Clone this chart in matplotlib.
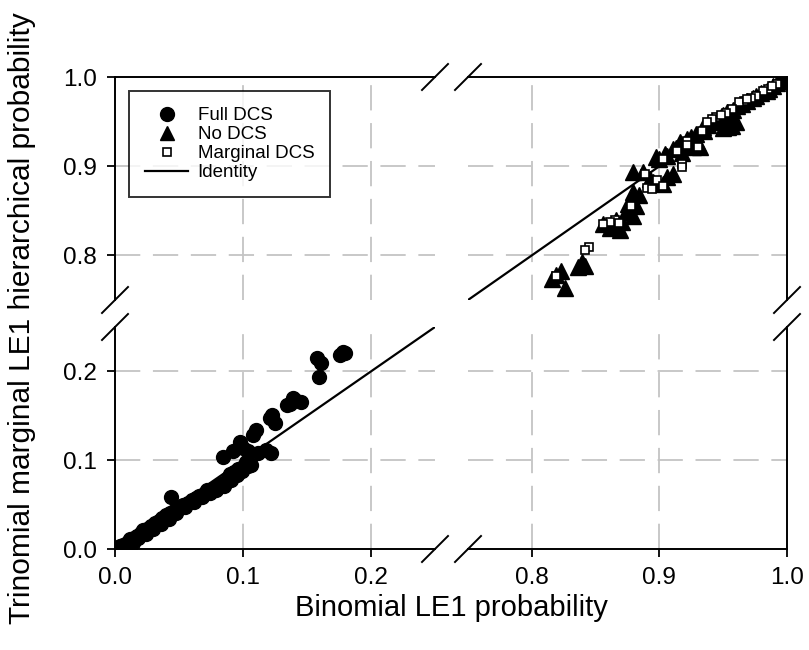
import matplotlib
matplotlib.use("Agg")
import matplotlib.pyplot as plt
from matplotlib.lines import Line2D

# Full DCS (all in the low range)
full_x = [0.004, 0.006, 0.008, 0.010, 0.012, 0.015, 0.017, 0.020, 0.022, 0.025,
          0.028, 0.031, 0.034, 0.037, 0.040, 0.043, 0.046, 0.044, 0.050, 0.053,
          0.057, 0.060, 0.063, 0.066, 0.070, 0.072, 0.076, 0.080, 0.083, 0.087,
          0.088, 0.090, 0.093, 0.096, 0.100, 0.104, 0.102, 0.084, 0.092, 0.098,
          0.100, 0.104, 0.112, 0.122, 0.108, 0.110, 0.123, 0.125, 0.121, 0.134,
          0.139, 0.145, 0.141, 0.158, 0.161, 0.159, 0.176, 0.180, 0.178,
          0.009, 0.014, 0.018, 0.024, 0.030, 0.036, 0.042, 0.048, 0.055, 0.062,
          0.068, 0.074, 0.079, 0.085, 0.091, 0.095, 0.099, 0.106, 0.118, 0.137]
full_y = [0.003, 0.005, 0.004, 0.008, 0.011, 0.012, 0.015, 0.018, 0.021, 0.023,
          0.026, 0.029, 0.032, 0.035, 0.038, 0.040, 0.043, 0.058, 0.046, 0.049,
          0.052, 0.055, 0.057, 0.060, 0.063, 0.066, 0.068, 0.070, 0.073, 0.076,
          0.080, 0.084, 0.087, 0.090, 0.092, 0.094, 0.098, 0.104, 0.110, 0.120,
          0.114, 0.110, 0.108, 0.108, 0.128, 0.134, 0.151, 0.142, 0.148, 0.162,
          0.170, 0.165, 0.168, 0.215, 0.210, 0.194, 0.218, 0.221, 0.222,
          0.002, 0.007, 0.012, 0.017, 0.022, 0.028, 0.034, 0.041, 0.047, 0.053,
          0.058, 0.063, 0.067, 0.071, 0.078, 0.083, 0.088, 0.095, 0.112, 0.163]

# No DCS
no_x = [1.000, 0.995, 0.989, 0.984, 0.976, 0.969, 0.961, 0.953, 0.954, 0.948,
        0.942, 0.934, 0.929, 0.926, 0.932, 0.922, 0.916, 0.911, 0.906, 0.900,
        0.897, 0.879, 0.887, 0.911, 0.906, 0.903, 0.895, 0.879, 0.877, 0.882,
        0.874, 0.879, 0.871, 0.869, 0.861, 0.856, 0.839, 0.842, 0.836, 0.823,
        0.816, 0.826, 0.819,
        0.997, 0.992, 0.986, 0.980, 0.973, 0.965, 0.958, 0.950, 0.945, 0.938,
        0.935, 0.925, 0.920, 0.913, 0.904, 0.957, 0.960, 0.950, 0.930, 0.918,
        0.893, 0.884, 0.875, 0.866, 0.864]
no_y = [1.000, 0.996, 0.990, 0.984, 0.979, 0.973, 0.967, 0.961, 0.944, 0.955,
        0.951, 0.944, 0.936, 0.922, 0.921, 0.930, 0.927, 0.919, 0.911, 0.908,
        0.910, 0.893, 0.893, 0.891, 0.888, 0.880, 0.882, 0.871, 0.860, 0.855,
        0.849, 0.844, 0.837, 0.829, 0.831, 0.835, 0.793, 0.788, 0.787, 0.782,
        0.773, 0.764, 0.778,
        0.998, 0.993, 0.987, 0.982, 0.976, 0.970, 0.963, 0.957, 0.950, 0.946,
        0.940, 0.933, 0.925, 0.920, 0.914, 0.945, 0.950, 0.943, 0.925, 0.915,
        0.886, 0.868, 0.858, 0.840, 0.834]

# Marginal DCS
marg_x = [0.985, 0.981, 0.976, 0.972, 0.966, 0.962, 0.957, 0.944, 0.941, 0.937,
          0.933, 0.930, 0.922, 0.922, 0.914, 0.903, 0.918, 0.918, 0.889, 0.898,
          0.903, 0.890, 0.894, 0.878, 0.865, 0.861, 0.856, 0.868, 0.845, 0.842,
          0.819, 0.992, 0.988, 0.969, 0.952, 0.948]
marg_y = [0.987, 0.984, 0.979, 0.977, 0.973, 0.972, 0.964, 0.955, 0.953, 0.949,
          0.939, 0.922, 0.928, 0.924, 0.917, 0.908, 0.903, 0.899, 0.891, 0.885,
          0.878, 0.876, 0.874, 0.855, 0.840, 0.837, 0.835, 0.836, 0.809, 0.806,
          0.777, 0.992, 0.990, 0.975, 0.960, 0.957]

identity = [0.0, 1.0]

x_lims = [(0.0, 0.25), (0.75, 1.0)]
y_lims = [(0.0, 0.25), (0.75, 1.0)]
x_ticks = [[0.0, 0.1, 0.2], [0.8, 0.9, 1.0]]
y_ticks = [[0.0, 0.1, 0.2], [0.8, 0.9, 1.0]]
x_grid = [[0.1, 0.2], [0.8, 0.9]]
y_grid = [[0.1, 0.2], [0.8, 0.9]]

plt.rcParams['font.family'] = ['Liberation Sans', 'DejaVu Sans']

W, H = 809, 650
fig = plt.figure(figsize=(W / 100, H / 100), dpi=100)

# pixel boxes of the four panels: (left, right) and (bottom, top) in image px
xpix = [(115, 435), (468, 787)]
ypix = [(549, 327), (300, 77)]

axes = {}
for i in range(2):
    for j in range(2):
        x0, x1 = xpix[i]
        yb, yt = ypix[j]
        ax = fig.add_axes([x0 / W, (H - yb) / H, (x1 - x0) / W, (yb - yt) / H])
        axes[(i, j)] = ax
        ax.set_xlim(*x_lims[i])
        ax.set_ylim(*y_lims[j])

        for g in x_grid[i]:
            ax.plot([g, g], y_lims[j], color='#c4c4c4', lw=1.3,
                    ls=(0, (14, 7)), zorder=0)
        for g in y_grid[j]:
            ax.plot(x_lims[i], [g, g], color='#c4c4c4', lw=1.3,
                    ls=(0, (14, 7)), zorder=0)

        ax.plot(identity, identity, color='black', lw=1.6, zorder=1)
        ax.plot(full_x, full_y, 'o', color='black', ms=10, zorder=2)
        ax.plot(no_x, no_y, '^', color='black', ms=11.5, zorder=3)
        ax.plot(marg_x, marg_y, 's', mfc='white', mec='black', mew=1.2,
                ms=5.5, zorder=4)

        for s in ax.spines.values():
            s.set_linewidth(1.4)
        ax.spines['left'].set_visible(i == 0)
        ax.spines['right'].set_visible(i == 1)
        ax.spines['bottom'].set_visible(j == 0)
        ax.spines['top'].set_visible(j == 1)

        ax.tick_params(direction='out', length=6, width=1.3, labelsize=17.5,
                       top=False, right=False, pad=7)
        if j == 0:
            ax.set_xticks(x_ticks[i])
            ax.set_xticklabels(['%.1f' % v for v in x_ticks[i]])
        else:
            ax.set_xticks([])
        if i == 0:
            ax.set_yticks(y_ticks[j])
            ax.set_yticklabels(['%.1f' % v for v in y_ticks[j]])
        else:
            ax.set_yticks([])
        ax.patch.set_alpha(0)

# legend in the upper-left panel
handles = [
    Line2D([], [], marker='o', color='black', ls='none', ms=10),
    Line2D([], [], marker='^', color='black', ls='none', ms=10),
    Line2D([], [], marker='s', mfc='white', mec='black', mew=1.2, ls='none', ms=6),
    Line2D([], [], color='black', lw=1.6),
]
leg = axes[(0, 1)].legend(handles, ['Full DCS', 'No DCS', 'Marginal DCS', 'Identity'],
                          loc='upper left', bbox_to_anchor=(0.044, 0.937),
                          borderaxespad=0, fontsize=13.5, frameon=True,
                          fancybox=False, edgecolor='black', handlelength=2.3,
                          handletextpad=0.5, labelspacing=0.1,
                          borderpad=0.85)
leg.get_frame().set_linewidth(1.4)

# break marks
d = 13
def brk(px, py):
    fig.add_artist(Line2D([(px - d) / W, (px + d) / W],
                          [(H - py - d) / H, (H - py + d) / H],
                          color='black', lw=1.4, transform=fig.transFigure))

for px in (435, 468):
    brk(px, 77)
    brk(px, 549)
for py in (300, 327):
    brk(115, py)
    brk(787, py)

fig.text(451 / W, (H - 608) / H, 'Binomial LE1 probability', fontsize=21,
         ha='center', va='center')
fig.text(22 / W, (H - 318) / H, 'Trinomial marginal LE1 hierarchical probability',
         fontsize=21.5, ha='center', va='center', rotation=90)

fig.savefig('out.png', dpi=100)
